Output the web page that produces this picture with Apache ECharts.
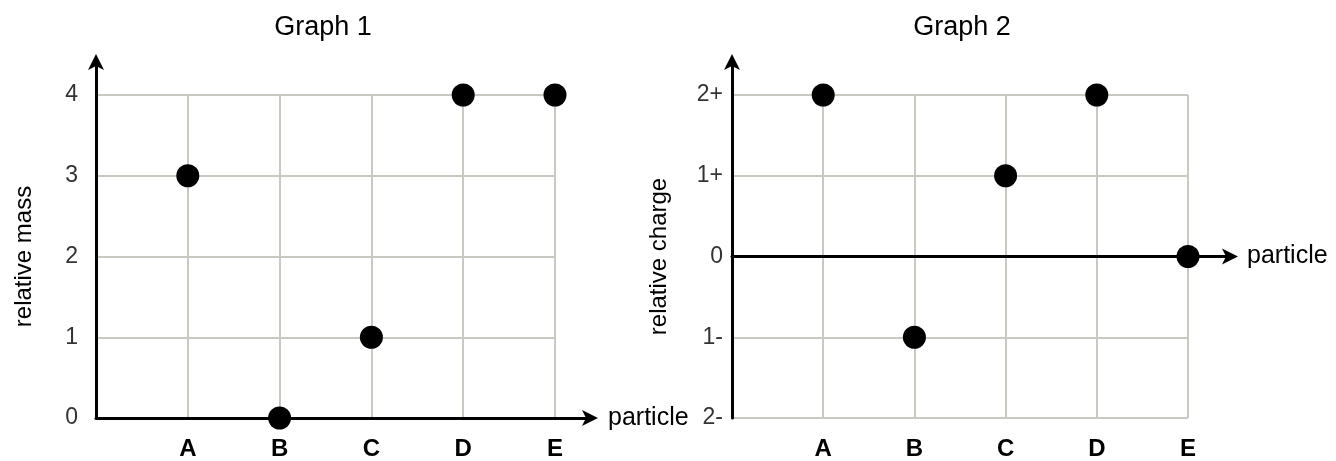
<!DOCTYPE html>
<html><head><meta charset="utf-8">
<script src="https://cdn.jsdelivr.net/npm/echarts@6/dist/echarts.min.js"></script>
<style>html,body{margin:0;padding:0;background:#fff}#c{width:1336px;height:461px}</style>
</head><body><div id="c"></div>
<script>
const categories = ['A', 'B', 'C', 'D', 'E'];
const massValues = [3, 0, 1, 4, 4];
const chargeValues = [2, -1, 1, 2, 0];
const massTicks = ['0', '1', '2', '3', '4'];
const chargeTickMap = { '-2': '2-', '-1': '1-', '0': '0', '1': '1+', '2': '2+' };
const titles = ['Graph 1', 'Graph 2'];
const yNames = ['relative mass', 'relative charge'];
const xName = 'particle';

const FONT = '"Liberation Sans", Arial, sans-serif';
const gridColor = '#c9c9c1';
const chart = echarts.init(document.getElementById('c'));

function catLabel(v) { return (v >= 1 && v <= categories.length) ? categories[v - 1] : ''; }

const pts1 = categories.map((c, i) => [i + 1, massValues[i]]);
const pts2 = categories.map((c, i) => [i + 1, chargeValues[i]]);

const tickStyle = { color: '#333', fontSize: 23, fontFamily: FONT };
const catStyle = { color: '#000', fontSize: 24, fontWeight: 'bold', fontFamily: FONT, margin: 19 };
const nameStyle = { color: '#000', fontSize: 24, fontFamily: FONT };
const xNameStyle = { color: '#000', fontSize: 25, fontFamily: FONT };
const split = { show: true, lineStyle: { color: gridColor, width: 2 } };
const arrowLine = { show: true, symbol: ['none', 'arrow'], symbolSize: [12, 16], symbolOffset: [0, 6], lineStyle: { color: '#000', width: 3 } };
const titleStyle = { fontSize: 27, fontWeight: 'normal', color: '#000', fontFamily: FONT };

chart.setOption({
  animation: false,
  title: [
    { text: titles[0], left: 318, top: 9, textAlign: 'center', textStyle: titleStyle },
    { text: titles[1], left: 957, top: 9, textAlign: 'center', textStyle: titleStyle }
  ],
  grid: [
    { left: 96, width: 459, top: 95, height: 323 },
    { left: 96, width: 496, top: 60, height: 358 },
    { left: 732, width: 456, top: 95, height: 323 },
    { left: 732, width: 500, top: 60, height: 358 }
  ],
  xAxis: [
    { gridIndex: 0, type: 'value', min: 0, max: 5, interval: 1, axisLine: { show: false, onZero: false }, axisTick: { show: false }, splitLine: split, axisLabel: Object.assign({ formatter: catLabel }, catStyle) },
    { gridIndex: 1, type: 'value', min: 0, max: 1, axisLine: Object.assign({ onZero: false }, arrowLine), axisTick: { show: false }, splitLine: { show: false }, axisLabel: { show: false },
      name: xName, nameLocation: 'end', nameGap: 16, nameTextStyle: xNameStyle },
    { gridIndex: 2, type: 'value', min: 0, max: 5, interval: 1, axisLine: { show: false, onZero: false }, axisTick: { show: false }, splitLine: split, axisLabel: Object.assign({ formatter: catLabel }, catStyle) },
    { gridIndex: 3, type: 'value', min: 0, max: 1, axisLine: Object.assign({ onZero: true }, arrowLine), axisTick: { show: false }, splitLine: { show: false }, axisLabel: { show: false },
      name: xName, nameLocation: 'end', nameGap: 15, nameTextStyle: xNameStyle }
  ],
  yAxis: [
    { gridIndex: 0, type: 'value', min: 0, max: 4, interval: 1, axisLine: { show: false, onZero: false }, axisTick: { show: false }, splitLine: split,
      axisLabel: Object.assign({ margin: 18, formatter: v => massTicks[v] }, tickStyle),
      name: yNames[0], nameLocation: 'middle', nameGap: 60, nameRotate: 90, nameTextStyle: nameStyle },
    { gridIndex: 1, type: 'value', min: 0, max: 1, axisLine: Object.assign({ onZero: false }, arrowLine), axisTick: { show: false }, splitLine: { show: false }, axisLabel: { show: false } },
    { gridIndex: 2, type: 'value', min: -2, max: 2, interval: 1, axisLine: { show: false, onZero: false }, axisTick: { show: false }, splitLine: split,
      axisLabel: Object.assign({ margin: 9, formatter: v => chargeTickMap[String(v)] }, tickStyle),
      name: yNames[1], nameLocation: 'middle', nameGap: 61, nameRotate: 90, nameTextStyle: nameStyle },
    { gridIndex: 3, type: 'value', min: -2, max: 2 + 35 / 80.75, axisLine: Object.assign({ onZero: false }, arrowLine), axisTick: { show: false }, splitLine: { show: false }, axisLabel: { show: false } }
  ],
  series: [
    { type: 'scatter', xAxisIndex: 0, yAxisIndex: 0, data: pts1, symbolSize: 23, itemStyle: { color: '#000', opacity: 1 }, z: 5 },
    { type: 'scatter', xAxisIndex: 2, yAxisIndex: 2, data: pts2, symbolSize: 23, itemStyle: { color: '#000', opacity: 1 }, z: 5 }
  ]
});
</script></body></html>
